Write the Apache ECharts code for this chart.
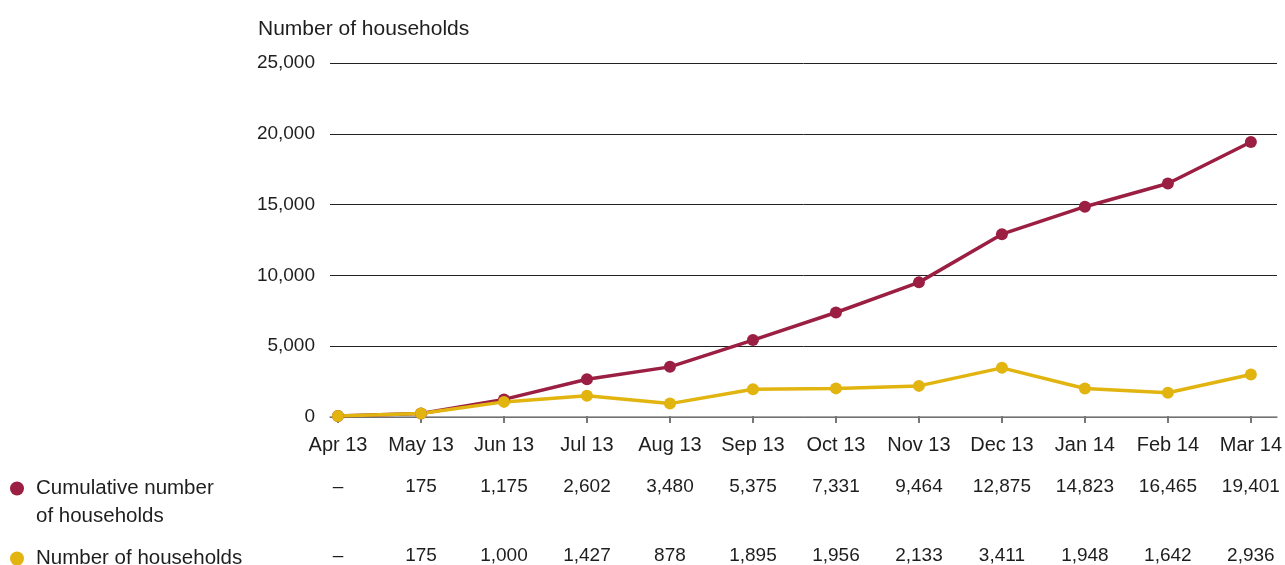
<!DOCTYPE html>
<html>
<head>
<meta charset="utf-8">
<script src="https://cdn.jsdelivr.net/npm/echarts@6/dist/echarts.min.js"></script>
<style>
  html, body { margin: 0; padding: 0; background: #fff; }
  #chart { width: 1285px; height: 565px; }
</style>
</head>
<body>
<div id="chart"></div>
<script>
// Monthly household counts, April 2013 to March 2014
const months = ['Apr 13', 'May 13', 'Jun 13', 'Jul 13', 'Aug 13', 'Sep 13',
                'Oct 13', 'Nov 13', 'Dec 13', 'Jan 14', 'Feb 14', 'Mar 14'];
const cumulative = [0, 175, 1175, 2602, 3480, 5375, 7331, 9464, 12875, 14823, 16465, 19401];
const monthly = [0, 175, 1000, 1427, 878, 1895, 1956, 2133, 3411, 1948, 1642, 2936];
const yTicks = [0, 5000, 10000, 15000, 20000, 25000];

const seriesNames = ['Cumulative number of households', 'Number of households'];
const colors = ['#9b1f42', '#e2b40f'];

const FONT = 'Liberation Sans';
const TEXT = '#1e1e1e';

// zero months are shown as a dash in the table rows
const fmt = v => (v === 0 ? '–' : v.toLocaleString('en-US'));

const chart = echarts.init(document.getElementById('chart'), null, { renderer: 'canvas' });

// value rows under the chart, one label per month
const tableAxis = (values, offset) => ({
  type: 'category',
  gridIndex: 1,
  data: values.map(fmt),
  boundaryGap: false,
  position: 'bottom',
  offset: offset,
  axisLine: { show: false },
  axisTick: { show: false },
  axisLabel: { interval: 0, margin: 21, fontFamily: FONT, fontSize: 19, color: TEXT }
});

const legendText = { fontFamily: FONT, fontSize: 20.5, color: TEXT, padding: [0, 0, 0, 7] };

chart.setOption({
  animation: false,
  title: {
    text: 'Number of households',
    left: 253, top: 14,
    textStyle: { fontFamily: FONT, fontSize: 21, fontWeight: 'normal', color: TEXT }
  },
  legend: [
    {
      data: [seriesNames[0]],
      orient: 'vertical', left: 5, top: 473,
      icon: 'circle', itemWidth: 14, itemHeight: 14,
      formatter: () => 'Cumulative number',
      textStyle: legendText,
      selectedMode: false
    },
    {
      data: [seriesNames[1]],
      orient: 'vertical', left: 5, top: 543,
      icon: 'circle', itemWidth: 14, itemHeight: 14,
      textStyle: legendText,
      selectedMode: false
    }
  ],
  graphic: [
    {
      type: 'text', left: 36, top: 506,
      style: { text: 'of households', font: '20.5px "Liberation Sans"', fill: TEXT }
    }
  ],
  grid: [
    { left: 330, right: 8, top: 63, bottom: 148 },
    { left: 338, right: 34, top: 63, bottom: 148 }
  ],
  xAxis: [
    {
      type: 'category', gridIndex: 0, data: months, boundaryGap: false,
      axisLine: { show: true, lineStyle: { color: '#8c8c8c', width: 1.5 } },
      axisTick: { show: false }, axisLabel: { show: false }
    },
    {
      type: 'category', gridIndex: 1, data: months, boundaryGap: false,
      axisLine: { show: false },
      axisTick: { show: true, length: 7, lineStyle: { color: '#777', width: 2 } },
      axisLabel: { interval: 0, margin: 19, fontFamily: FONT, fontSize: 20, color: TEXT }
    },
    tableAxis(cumulative, 40),
    tableAxis(monthly, 109)
  ],
  yAxis: [
    {
      type: 'value', gridIndex: 0, min: yTicks[0], max: yTicks[yTicks.length - 1], interval: 5000,
      axisLine: { show: false }, axisTick: { show: false },
      splitLine: { show: true, lineStyle: { color: '#222', width: 1 } },
      axisLabel: {
        margin: 15, fontFamily: FONT, fontSize: 19, color: TEXT,
        formatter: v => v.toLocaleString('en-US')
      }
    },
    {
      type: 'value', gridIndex: 1, min: yTicks[0], max: yTicks[yTicks.length - 1], interval: 5000,
      show: false, splitLine: { show: false }
    }
  ],
  series: [
    {
      name: seriesNames[0], type: 'line', xAxisIndex: 1, yAxisIndex: 1,
      data: cumulative, color: colors[0],
      symbol: 'circle', symbolSize: 12, showSymbol: true,
      lineStyle: { width: 3.5, color: colors[0] },
      itemStyle: { color: colors[0] }
    },
    {
      name: seriesNames[1], type: 'line', xAxisIndex: 1, yAxisIndex: 1,
      data: monthly, color: colors[1],
      symbol: 'circle', symbolSize: 12, showSymbol: true,
      lineStyle: { width: 3.5, color: colors[1] },
      itemStyle: { color: colors[1] }
    }
  ]
});
</script>
</body>
</html>
